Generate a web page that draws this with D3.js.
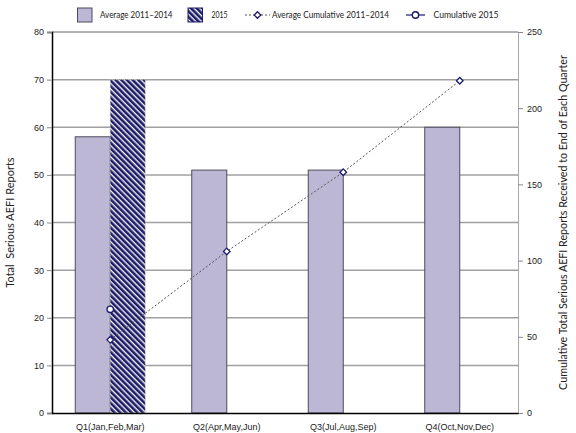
<!DOCTYPE html>
<html><head><meta charset="utf-8">
<script src="https://cdn.jsdelivr.net/npm/d3@7"></script>
<style>body{margin:0;background:#fff}svg{font-family:Lato,"Noto Sans",sans-serif}</style>
</head><body><svg id="c" width="576" height="433"></svg>
<script>
const categories = ["Q1(Jan,Feb,Mar)","Q2(Apr,May,Jun)","Q3(Jul,Aug,Sep)","Q4(Oct,Nov,Dec)"];
const avg20112014 = [58, 51, 51, 60];
const y2015 = [70, null, null, null];
const avgCumulative = [48, 106, 158, 218];
const cumulative2015 = [68, null, null, null];
const leftTicks = [0,10,20,30,40,50,60,70,80];
const rightTicks = [0,50,100,150,200,250];

const svg = d3.select("#c");
const m = {l:52, r:518, t:32, b:413};
const x = d3.scaleBand().domain(categories).range([m.l, m.r]);
const yL = d3.scaleLinear().domain([0,80]).range([m.b, m.t]);
const yR = d3.scaleLinear().domain([0,250]).range([m.b, m.t]);
const barW = 35;

const defs = svg.append("defs");
const pat = defs.append("pattern").attr("id","hatch").attr("patternUnits","userSpaceOnUse")
  .attr("width",4).attr("height",4).attr("patternTransform","rotate(45)");
pat.append("rect").attr("width",4).attr("height",4).attr("fill","#1b1b6b");
pat.append("rect").attr("width",4).attr("height",1.4).attr("fill","#f4f4ee");

// gridlines
svg.append("g").selectAll("line").data(leftTicks.filter(d=>d>0)).join("line")
  .attr("x1",m.l).attr("x2",m.r).attr("y1",d=>yL(d)).attr("y2",d=>yL(d))
  .attr("stroke",d=>d===80?"#666":"#a0a0a0").attr("stroke-width",d=>d===80?1:1.5);

// bars
svg.append("g").selectAll("rect").data(avg20112014).join("rect")
  .attr("x",(d,i)=>x(categories[i])+x.bandwidth()/2-barW)
  .attr("y",d=>yL(d)).attr("width",barW).attr("height",d=>yL(0)-yL(d))
  .attr("fill","#bcb7d4").attr("stroke","#4d4b5e").attr("stroke-width",1);
svg.append("g").selectAll("rect").data(y2015.map((v,i)=>({v,i})).filter(d=>d.v!=null)).join("rect")
  .attr("x",d=>x(categories[d.i])+x.bandwidth()/2)
  .attr("y",d=>yL(d.v)).attr("width",barW).attr("height",d=>yL(0)-yL(d.v))
  .attr("fill","url(#hatch)").attr("stroke","#d8d4a8").attr("stroke-width",0.8).attr("stroke-dasharray","1,1");

// axes
const axL = svg.append("g").attr("transform",`translate(${m.l},0)`)
  .call(d3.axisLeft(yL).tickValues(leftTicks).tickSize(5).tickPadding(3));
axL.select(".domain").attr("stroke","#000").attr("stroke-width",1.5);
axL.selectAll(".tick line").attr("stroke","#888");
axL.selectAll("text").attr("font-size",9).attr("fill","#222");

const axR = svg.append("g").attr("transform",`translate(${m.r},0)`)
  .call(d3.axisRight(yR).tickValues(rightTicks).tickSize(5).tickPadding(4));
axR.select(".domain").attr("stroke","#aaa").attr("stroke-width",1);
axR.selectAll(".tick line").attr("stroke","#888");
axR.selectAll("text").attr("font-size",9).attr("fill","#222");

const axB = svg.append("g").attr("transform",`translate(0,${m.b})`)
  .call(d3.axisBottom(x).tickSize(0).tickPadding(11));
axB.select(".domain").attr("stroke","#000").attr("stroke-width",1.5);
axB.selectAll("text").attr("font-size",9).attr("fill","#222");

// lines
const cx = i => x(categories[i])+x.bandwidth()/2;
const line = d3.line().defined(d=>d!=null).x((d,i)=>cx(i)).y(d=>yR(d));
svg.append("path").datum(avgCumulative).attr("d",line).attr("fill","none")
  .attr("stroke","#555").attr("stroke-width",1).attr("stroke-dasharray","2,2");
svg.append("path").datum(cumulative2015).attr("d",line).attr("fill","none")
  .attr("stroke","#1b1b6b").attr("stroke-width",1.2);
const diamond = d3.symbol().type(d3.symbolDiamond2).size(28);
svg.append("g").selectAll("path").data(avgCumulative).join("path")
  .attr("d",diamond).attr("transform",(d,i)=>`translate(${cx(i)},${yR(d)})`)
  .attr("fill","#fff").attr("stroke","#1b1b6b").attr("stroke-width",1.3);
svg.append("g").selectAll("circle").data(cumulative2015.map((v,i)=>({v,i})).filter(d=>d.v!=null)).join("circle")
  .attr("cx",d=>cx(d.i)).attr("cy",d=>yR(d.v)).attr("r",3.2)
  .attr("fill","#fff").attr("stroke","#1b1b6b").attr("stroke-width",1.4);

// axis titles
svg.append("text").attr("transform",`translate(14,${(m.t+m.b)/2}) rotate(-90)`)
  .attr("text-anchor","middle").attr("font-size",11).attr("fill","#222")
  .attr("xml:space","preserve").text("Total  Serious AEFI Reports");
svg.append("text").attr("transform",`translate(567,${(m.t+m.b)/2}) rotate(-90)`)
  .attr("text-anchor","middle").attr("font-size",10.7).attr("fill","#222")
  .text("Cumulative Total Serious AEFI Reports Received to End of Each Quarter");

// legend
const lg = svg.append("g").attr("font-size",9).attr("fill","#222");
function ltext(xp, w, s){
  lg.append("text").attr("x",xp).attr("y",18).attr("textLength",w)
    .attr("lengthAdjust","spacingAndGlyphs").text(s);
}
lg.append("rect").attr("x",77.5).attr("y",8).attr("width",14.5).attr("height",14)
  .attr("fill","#bcb7d4").attr("stroke","#4d4b5e");
ltext(100, 72.5, "Average 2011–2014");
lg.append("rect").attr("x",188).attr("y",8).attr("width",14.5).attr("height",14)
  .attr("fill","url(#hatch)").attr("stroke","#1b1b6b");
ltext(211.5, 16, "2015");
lg.append("line").attr("x1",245).attr("x2",270).attr("y1",15).attr("y2",15)
  .attr("stroke","#555").attr("stroke-dasharray","2,2");
lg.append("path").attr("d",diamond).attr("transform","translate(257.5,15)")
  .attr("fill","#fff").attr("stroke","#1b1b6b").attr("stroke-width",1.3);
ltext(272, 117, "Average Cumulative 2011–2014");
lg.append("line").attr("x1",406).attr("x2",425).attr("y1",15).attr("y2",15)
  .attr("stroke","#1b1b6b").attr("stroke-width",1.2);
lg.append("circle").attr("cx",415.5).attr("cy",15).attr("r",3.2)
  .attr("fill","#fff").attr("stroke","#1b1b6b").attr("stroke-width",1.4);
ltext(433.5, 65, "Cumulative 2015");
</script></body></html>
